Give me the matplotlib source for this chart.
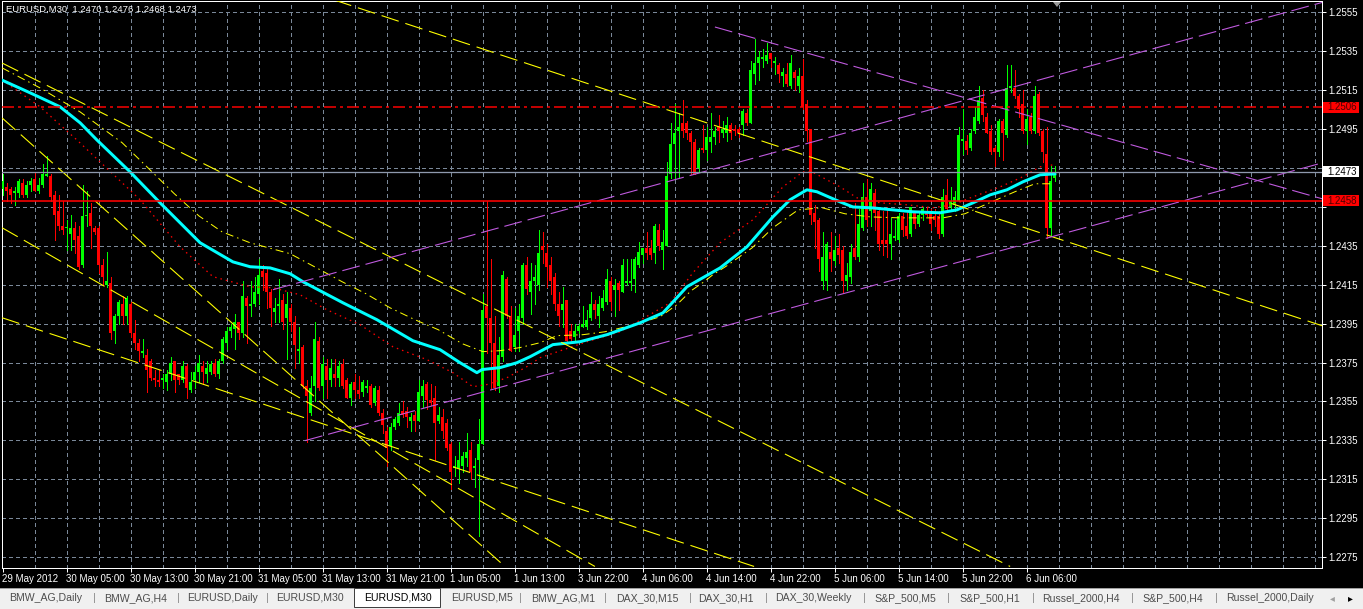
import matplotlib
matplotlib.use("Agg")
import matplotlib.pyplot as plt
from matplotlib.patches import Rectangle, Polygon

plt.rcParams['lines.scale_dashes'] = False
plt.rcParams['font.family'] = ['Liberation Sans', 'DejaVu Sans']

# ---------------- data (EURUSD M30 candles, bar index 0 = 29 May 21:00) ----------------
opens = [
1.2464,1.2465,1.2464,1.2462,1.2462,1.2467,1.2461,1.2466,1.2469,1.2463,
1.2466,1.2471,1.2471,1.2461,1.2453,1.2445,1.2444,1.2441,1.2444,1.2440,
1.2425,1.2450,1.2452,1.2444,1.2444,1.2425,1.2415,1.2416,1.2391,1.2399,
1.2405,1.2399,1.2405,1.2390,1.2385,1.2380,1.2379,1.2376,1.2367,1.2366,
1.2366,1.2365,1.2369,1.2376,1.2369,1.2366,1.2373,1.2361,1.2366,1.2370,
1.2373,1.2369,1.2370,1.2375,1.2369,1.2376,1.2385,1.2391,1.2392,1.2396,
1.2390,1.2408,1.2404,1.2405,1.2410,1.2422,1.2421,1.2411,1.2401,1.2404,
1.2407,1.2398,1.2403,1.2396,1.2381,1.2383,1.2363,1.2349,1.2363,1.2386,
1.2363,1.2373,1.2366,1.2369,1.2367,1.2374,1.2366,1.2357,1.2365,1.2361,
1.2360,1.2362,1.2363,1.2354,1.2361,1.2349,1.2340,1.2332,1.2342,1.2344,
1.2350,1.2350,1.2345,1.2348,1.2345,1.2358,1.2364,1.2356,1.2357,1.2345,
1.2347,1.2344,1.2333,1.2321,1.2321,1.2322,1.2326,1.2330,1.2321,1.2325,
1.2333,1.2404,1.2398,1.2385,1.2363,1.2378,1.2418,1.2399,1.2383,1.2391,
1.2398,1.2425,1.2411,1.2417,1.2415,1.2435,1.2431,1.2425,1.2419,1.2405,
1.2402,1.2407,1.2391,1.2388,1.2391,1.2393,1.2393,1.2398,1.2405,1.2399,
1.2403,1.2406,1.2417,1.2412,1.2416,1.2411,1.2416,1.2416,1.2418,1.2425,
1.2430,1.2434,1.2434,1.2431,1.2443,1.2433,1.2435,1.2472,1.2487,1.2494,
1.2498,1.2498,1.2493,1.2488,1.2475,1.2485,1.2484,1.2488,1.2491,1.2496,
1.2493,1.2493,1.2497,1.2495,1.2495,1.2497,1.2503,1.2498,1.2523,1.2529,
1.2531,1.2530,1.2534,1.2529,1.2528,1.2522,1.2523,1.2517,1.2524,1.2517,
1.2522,1.2508,1.2495,1.2452,1.2448,1.2417,1.2417,1.2432,1.2427,1.2434,
1.2433,1.2417,1.2419,1.2434,1.2429,1.2444,1.2460,1.2453,1.2462,1.2453,
1.2438,1.2438,1.2436,1.2439,1.2438,1.2450,1.2445,1.2441,1.2453,1.2446,
1.2451,1.2452,1.2452,1.2450,1.2450,1.2441,1.2461,1.2455,1.2456,1.2458,
1.2489,1.2489,1.2485,1.2494,1.2499,1.2511,1.2501,1.2494,1.2485,1.2483,
1.2499,1.2492,1.2516,1.2516,1.2512,1.2508,1.2494,1.2501,1.2494,1.2513,
1.2494,1.2482,1.2444,1.2470]
highs = [
1.2472,1.2467,1.2465,1.2465,1.2469,1.2469,1.2468,1.2470,1.2473,1.2470,
1.2477,1.2481,1.2472,1.2463,1.2461,1.2458,1.2448,1.2451,1.2447,1.2445,
1.2466,1.2463,1.2457,1.2445,1.2445,1.2428,1.2432,1.2419,1.2400,1.2407,
1.2409,1.2409,1.2406,1.2397,1.2387,1.2387,1.2382,1.2377,1.2371,1.2371,
1.2369,1.2371,1.2378,1.2376,1.2369,1.2376,1.2374,1.2370,1.2373,1.2379,
1.2376,1.2376,1.2376,1.2377,1.2377,1.2388,1.2393,1.2395,1.2400,1.2396,
1.2417,1.2409,1.2417,1.2419,1.2428,1.2425,1.2423,1.2413,1.2408,1.2418,
1.2410,1.2411,1.2405,1.2399,1.2393,1.2384,1.2366,1.2368,1.2396,1.2388,
1.2378,1.2377,1.2377,1.2377,1.2376,1.2377,1.2367,1.2365,1.2369,1.2368,
1.2366,1.2366,1.2364,1.2363,1.2363,1.2351,1.2342,1.2344,1.2347,1.2354,
1.2355,1.2352,1.2349,1.2350,1.2366,1.2366,1.2365,1.2364,1.2363,1.2352,
1.2351,1.2346,1.2334,1.2327,1.2334,1.2329,1.2339,1.2334,1.2326,1.2346,
1.2410,1.2458,1.2428,1.2399,1.2388,1.2422,1.2419,1.2404,1.2403,1.2405,
1.2426,1.2429,1.2426,1.2425,1.2443,1.2442,1.2436,1.2429,1.2421,1.2411,
1.2414,1.2407,1.2395,1.2395,1.2395,1.2404,1.2402,1.2411,1.2407,1.2409,
1.2412,1.2423,1.2419,1.2418,1.2417,1.2428,1.2428,1.2428,1.2429,1.2437,
1.2434,1.2442,1.2438,1.2446,1.2446,1.2443,1.2478,1.2498,1.2508,1.2503,
1.2510,1.2499,1.2494,1.2490,1.2485,1.2497,1.2496,1.2503,1.2496,1.2502,
1.2499,1.2501,1.2498,1.2497,1.2496,1.2505,1.2505,1.2530,1.2541,1.2535,
1.2536,1.2539,1.2534,1.2532,1.2529,1.2526,1.2529,1.2533,1.2525,1.2526,
1.2531,1.2510,1.2495,1.2456,1.2449,1.2442,1.2437,1.2442,1.2440,1.2441,
1.2435,1.2426,1.2436,1.2457,1.2454,1.2467,1.2469,1.2467,1.2464,1.2454,
1.2453,1.2455,1.2449,1.2448,1.2452,1.2452,1.2453,1.2455,1.2453,1.2453,
1.2455,1.2455,1.2454,1.2454,1.2453,1.2464,1.2469,1.2465,1.2463,1.2496,
1.2505,1.2492,1.2495,1.2506,1.2517,1.2515,1.2503,1.2497,1.2486,1.2500,
1.2500,1.2528,1.2528,1.2525,1.2513,1.2515,1.2505,1.2503,1.2517,1.2514,
1.2495,1.2496,1.2476,1.2476]
lows = [
1.2461,1.2458,1.2457,1.2456,1.2460,1.2460,1.2460,1.2463,1.2463,1.2462,
1.2465,1.2471,1.2458,1.2438,1.2443,1.2441,1.2433,1.2433,1.2431,1.2423,
1.2424,1.2445,1.2434,1.2441,1.2421,1.2415,1.2414,1.2387,1.2385,1.2395,
1.2395,1.2395,1.2388,1.2382,1.2376,1.2378,1.2360,1.2366,1.2363,1.2363,
1.2362,1.2361,1.2366,1.2360,1.2364,1.2365,1.2357,1.2360,1.2362,1.2365,
1.2364,1.2365,1.2369,1.2368,1.2367,1.2375,1.2382,1.2388,1.2382,1.2387,
1.2388,1.2385,1.2399,1.2404,1.2405,1.2412,1.2403,1.2394,1.2396,1.2396,
1.2392,1.2377,1.2391,1.2372,1.2375,1.2362,1.2334,1.2348,1.2355,1.2361,
1.2357,1.2357,1.2363,1.2363,1.2363,1.2362,1.2357,1.2353,1.2357,1.2357,
1.2358,1.2360,1.2352,1.2353,1.2348,1.2339,1.2322,1.2330,1.2341,1.2343,
1.2347,1.2342,1.2340,1.2340,1.2345,1.2352,1.2351,1.2353,1.2325,1.2344,
1.2336,1.2330,1.2310,1.2317,1.2313,1.2319,1.2322,1.2315,1.2311,1.2286,
1.2333,1.2380,1.2362,1.2361,1.2360,1.2376,1.2398,1.2381,1.2381,1.2381,
1.2395,1.2410,1.2400,1.2405,1.2412,1.2426,1.2414,1.2410,1.2402,1.2394,
1.2393,1.2385,1.2385,1.2386,1.2390,1.2393,1.2392,1.2397,1.2398,1.2393,
1.2402,1.2405,1.2402,1.2399,1.2402,1.2411,1.2415,1.2412,1.2411,1.2424,
1.2426,1.2428,1.2428,1.2426,1.2433,1.2423,1.2435,1.2470,1.2470,1.2470,
1.2491,1.2490,1.2472,1.2472,1.2473,1.2483,1.2479,1.2483,1.2487,1.2488,
1.2491,1.2489,1.2490,1.2492,1.2491,1.2492,1.2497,1.2498,1.2518,1.2520,
1.2527,1.2529,1.2527,1.2523,1.2519,1.2517,1.2517,1.2516,1.2515,1.2514,
1.2505,1.2489,1.2446,1.2434,1.2422,1.2413,1.2412,1.2422,1.2425,1.2426,
1.2411,1.2412,1.2416,1.2428,1.2427,1.2443,1.2445,1.2445,1.2443,1.2433,
1.2430,1.2429,1.2428,1.2438,1.2437,1.2440,1.2439,1.2440,1.2444,1.2445,
1.2448,1.2450,1.2443,1.2445,1.2439,1.2440,1.2453,1.2454,1.2453,1.2458,
1.2482,1.2482,1.2484,1.2493,1.2498,1.2499,1.2493,1.2482,1.2476,1.2481,
1.2479,1.2491,1.2514,1.2511,1.2501,1.2493,1.2487,1.2493,1.2493,1.2492,
1.2478,1.2439,1.2440,1.2468]
closes = [
1.2468,1.2463,1.2461,1.2463,1.2468,1.2461,1.2466,1.2468,1.2463,1.2466,
1.2472,1.2472,1.2460,1.2451,1.2445,1.2443,1.2444,1.2444,1.2438,1.2424,
1.2450,1.2451,1.2445,1.2442,1.2425,1.2419,1.2417,1.2390,1.2399,1.2406,
1.2399,1.2408,1.2390,1.2385,1.2381,1.2381,1.2371,1.2367,1.2366,1.2365,
1.2367,1.2369,1.2375,1.2366,1.2366,1.2373,1.2362,1.2365,1.2370,1.2375,
1.2370,1.2372,1.2374,1.2369,1.2376,1.2387,1.2391,1.2393,1.2396,1.2390,
1.2409,1.2404,1.2405,1.2411,1.2420,1.2419,1.2411,1.2403,1.2403,1.2405,
1.2396,1.2405,1.2396,1.2384,1.2382,1.2363,1.2358,1.2362,1.2387,1.2362,
1.2374,1.2366,1.2372,1.2367,1.2373,1.2363,1.2357,1.2364,1.2361,1.2359,
1.2365,1.2363,1.2353,1.2362,1.2349,1.2343,1.2331,1.2342,1.2346,1.2349,
1.2348,1.2347,1.2347,1.2345,1.2360,1.2363,1.2356,1.2354,1.2344,1.2348,
1.2340,1.2331,1.2319,1.2322,1.2325,1.2327,1.2329,1.2319,1.2322,1.2333,
1.2402,1.2398,1.2385,1.2362,1.2379,1.2420,1.2399,1.2381,1.2389,1.2399,
1.2425,1.2413,1.2417,1.2419,1.2431,1.2433,1.2424,1.2417,1.2405,1.2399,
1.2405,1.2386,1.2387,1.2391,1.2394,1.2395,1.2397,1.2405,1.2402,1.2405,
1.2408,1.2418,1.2406,1.2415,1.2412,1.2425,1.2417,1.2417,1.2428,1.2432,
1.2434,1.2431,1.2430,1.2445,1.2435,1.2437,1.2471,1.2487,1.2493,1.2496,
1.2494,1.2493,1.2488,1.2472,1.2484,1.2484,1.2491,1.2491,1.2494,1.2494,
1.2495,1.2497,1.2493,1.2494,1.2493,1.2504,1.2498,1.2525,1.2529,1.2532,
1.2532,1.2533,1.2531,1.2530,1.2523,1.2524,1.2518,1.2529,1.2521,1.2522,
1.2506,1.2494,1.2451,1.2447,1.2428,1.2429,1.2436,1.2428,1.2433,1.2430,
1.2417,1.2420,1.2432,1.2429,1.2446,1.2460,1.2448,1.2464,1.2452,1.2436,
1.2436,1.2436,1.2441,1.2440,1.2450,1.2443,1.2440,1.2455,1.2446,1.2451,
1.2454,1.2451,1.2446,1.2448,1.2441,1.2460,1.2454,1.2458,1.2460,1.2492,
1.2490,1.2484,1.2493,1.2501,1.2510,1.2502,1.2493,1.2483,1.2483,1.2499,
1.2493,1.2516,1.2517,1.2512,1.2505,1.2494,1.2500,1.2494,1.2512,1.2493,
1.2483,1.2444,1.2468,1.2473]

# moving averages (bar index, price)
ma_cyan_x = [-0.1, 6.9, 14.4, 19.4, 23.6, 31.9, 39.4, 49.4, 57.6, 61.9, 66.9, 71.9, 75.1, 85.1,
             93.6, 102.6, 109.4, 114.4, 118.6, 119.9, 124.4, 128.6, 131.9, 137.6, 144.4, 151.1,
             159.4, 165.1, 171.1, 179.4, 186.1, 192.6, 196.9, 201.1, 203.6, 209.4, 212.6, 217.6,
             227.6, 234.4, 238.6, 242.6, 246.9, 251.1, 255.1, 259.4, 263.1]
ma_cyan_p = [1.2520, 1.25135, 1.25063, 1.24981, 1.24893, 1.24729, 1.24570, 1.24365, 1.24267,
             1.24242, 1.24236, 1.24206, 1.24165, 1.24057, 1.23970, 1.23862, 1.23816, 1.23749,
             1.23698, 1.23714, 1.23724, 1.23749, 1.23780, 1.23842, 1.23857, 1.23893, 1.23954,
             1.24005, 1.24139, 1.24236, 1.24344, 1.24498, 1.24586, 1.24637, 1.24627, 1.24575,
             1.24549, 1.24544, 1.24524, 1.24519, 1.24534, 1.24570, 1.24611, 1.24637, 1.24678,
             1.24714, 1.24719]
ma_red_x = [-0.1, 9.4, 18.6, 34.4, 44.4, 52.6, 61.9, 67.6, 74.4, 81.1, 89.4, 97.6, 106.1, 112.6,
            117.6, 121.1, 126.1, 131.1, 134.4, 146.1, 154.4, 162.6, 166.9, 172.6, 179.4, 187.6,
            195.1, 200.1, 202.4, 209.4, 213.6, 219.4, 226.1, 232.6, 237.6, 242.6, 249.4, 255.1,
            259.4, 262.6]
ma_red_p = [1.25201, 1.25063, 1.24893, 1.24586, 1.24344, 1.24191, 1.24139, 1.24134, 1.24098,
            1.24021, 1.23944, 1.23831, 1.23765, 1.23698, 1.23626, 1.23637, 1.23672, 1.23729,
            1.23775, 1.23857, 1.23908, 1.24005, 1.24057, 1.24211, 1.24365, 1.24483, 1.24652,
            1.24729, 1.24729, 1.24652, 1.24596, 1.24570, 1.24560, 1.24545, 1.24560, 1.24601,
            1.24652, 1.24704, 1.24755, 1.24765]
ma_yel_x = [-0.1, 9.4, 19.4, 29.9, 37.1, 42.9, 49.1, 54.9, 61.9, 71.9, 78.9, 84.9, 90.9, 96.9,
            103.1, 108.9, 114.9, 120.1, 124.4, 129.4, 134.4, 138.6, 145.1, 150.6, 156.9, 164.4,
            168.6, 172.1, 175.4, 177.6, 181.1, 183.9, 187.4, 192.6, 198.9, 204.9, 210.6, 216.9,
            224.4, 235.1, 240.6, 245.6, 253.1, 258.1, 261.9]
ma_yel_p = [1.25263, 1.25160, 1.25037, 1.24879, 1.24735, 1.24618, 1.24503, 1.24421, 1.24365,
            1.24309, 1.24232, 1.24165, 1.24103, 1.24031, 1.23970, 1.23919, 1.23847, 1.23806,
            1.23811, 1.23827, 1.23852, 1.23888, 1.23893, 1.23908, 1.23939, 1.23985, 1.24047,
            1.24118, 1.24165, 1.24201, 1.24247, 1.24288, 1.24339, 1.24442, 1.24534, 1.24545,
            1.24514, 1.24498, 1.24493, 1.24493, 1.24514, 1.24560, 1.24627, 1.24668, 1.24668]

# trend lines: (bar0, price0, bar1, price1)
purple_x0 = [67.6, 75.6, 178.1]
purple_p0 = [1.24124, 1.23349, 1.25473]
purple_x1 = [329.9, 329.9, 329.9]
purple_p1 = [1.25599, 1.24775, 1.24591]
yellow_x0 = [82.9, -0.1, -0.1, -0.1, -0.1]
yellow_p0 = [1.25612, 1.25288, 1.24442, 1.23980, 1.25006]
yellow_x1 = [329.9, 251.9, 148.1, 187.9, 125.6]
yellow_p1 = [1.23939, 1.22703, 1.22703, 1.22703, 1.22703]

hline_dashdot = 1.2506
hline_solid = 1.2458
bid_price = 1.2473
header = "EURUSD,M30  1.2470 1.2476 1.2468 1.2473"

price_ticks = [1.2275, 1.2295, 1.2315, 1.2335, 1.2355, 1.2375, 1.2395, 1.2415,
               1.2435, 1.2455, 1.2475, 1.2495, 1.2515, 1.2535, 1.2555]
hidden_ticks = [1.2455, 1.2475]  # covered by the price boxes
time_labels = ["29 May 2012", "30 May 05:00", "30 May 13:00", "30 May 21:00", "31 May 05:00",
               "31 May 13:00", "31 May 21:00", "1 Jun 05:00", "1 Jun 13:00", "3 Jun 22:00",
               "4 Jun 06:00", "4 Jun 14:00", "4 Jun 22:00", "5 Jun 06:00", "5 Jun 14:00",
               "5 Jun 22:00", "6 Jun 06:00"]
time_label_bars = [16 * k for k in range(len(time_labels))]
tabs = ["BMW_AG,Daily", "BMW_AG,H4", "EURUSD,Daily", "EURUSD,M30", "EURUSD,M30", "EURUSD,M5",
        "BMW_AG,M1", "DAX_30,M15", "DAX_30,H1", "DAX_30,Weekly", "S&P_500,M5", "S&P_500,H1",
        "Russel_2000,H4", "S&P_500,H4", "Russel_2000,Daily"]
active_tab = 4

# ---------------- layout ----------------
W, H = 1363, 609
PX = 0.72  # points per pixel
def fx(x):
    return x / W
def fy(y):
    return 1 - y / H

YLO, YHI = 1.226976, 1.256065
fig = plt.figure(figsize=(W / 100, H / 100), dpi=100)
fig.patch.set_facecolor('black')
AL, AR, AT, AB = 2, 1322, 1, 567.5
ax = fig.add_axes([fx(AL), fy(AB), (AR - AL) / W, (AB - AT) / H])
ax.set_facecolor('black')
ax.set_xlim(-0.125, 329.875)
ax.set_ylim(YLO, YHI)
for s in ax.spines.values():
    s.set_color('white')
    s.set_linewidth(PX)

# grid
grid_col = '#7A8899'
for p in price_ticks:
    ax.axhline(p, color=grid_col, lw=PX, dashes=(3 * PX, 3 * PX), zorder=1, antialiased=False)
for b in range(8, 330, 8):
    ax.axvline(b, color=grid_col, lw=PX, dashes=(3 * PX, 3 * PX), zorder=1, antialiased=False)

# candles
idx = list(range(len(closes)))
cols = ['#00FF00' if c >= o else '#FF0000' for o, c in zip(opens, closes)]
ax.vlines(idx, lows, highs, colors=cols, linewidth=PX, zorder=3, antialiased=False)
bots = [min(o, c) for o, c in zip(opens, closes)]
hts = [max(abs(c - o), 0.00006) for o, c in zip(opens, closes)]
ax.bar(idx, hts, bottom=bots, width=0.75, color=cols, linewidth=0, zorder=4, antialiased=False)

# indicators
ax.plot(ma_yel_x, ma_yel_p, color='#FFFF00', lw=PX,
        dashes=(8 * PX, 4 * PX, 1.5 * PX, 4 * PX), zorder=5)
ax.plot(ma_red_x, ma_red_p, color='#FF0000', lw=PX * 1.3, dashes=(1.5 * PX, 4 * PX), zorder=5)
ax.plot(ma_cyan_x, ma_cyan_p, color='#00FFFF', lw=3 * PX, zorder=6, solid_joinstyle='round')

# trend lines
for x0, p0, x1, p1 in zip(yellow_x0, yellow_p0, yellow_x1, yellow_p1):
    ax.plot([x0, x1], [p0, p1], color='#FFFF00', lw=PX * 1.1, dashes=(18 * PX, 7 * PX), zorder=7)
for x0, p0, x1, p1 in zip(purple_x0, purple_p0, purple_x1, purple_p1):
    ax.plot([x0, x1], [p0, p1], color='#C05ADF', lw=PX * 1.1, dashes=(18 * PX, 6 * PX), zorder=7)

# horizontal lines
ax.axhline(hline_dashdot, color='#FF0000', lw=PX * 1.5,
           dashes=(12 * PX, 4 * PX, 3 * PX, 4 * PX), zorder=8)
ax.axhline(hline_solid, color='#FF0000', lw=PX * 1.6, zorder=8)
ax.axhline(bid_price, color='#8E99AD', lw=PX * 1.3, zorder=8)

# axes ticks
ax.yaxis.tick_right()
ax.set_yticks(price_ticks)
ax.set_yticklabels(["" if p in hidden_ticks else f"{p:.4f}" for p in price_ticks])
ax.tick_params(axis='y', colors='white', length=3, width=PX, pad=1.5, labelsize=7)
ax.set_xticks(time_label_bars)
ax.set_xticklabels(time_labels, ha='left')
ax.tick_params(axis='x', colors='white', length=3, width=PX, pad=1.5, labelsize=7)

# header
fig.text(fx(6), fy(9), header, color='white', fontsize=6.8, va='center', ha='left')

# chart-shift marker
fig.add_artist(Polygon([(fx(1053), fy(2)), (fx(1061), fy(2)), (fx(1057), fy(7))],
                       closed=True, transform=fig.transFigure, facecolor='#9A9A9A',
                       edgecolor='none'))

# price label boxes on the right axis
def price_box(p, face, txtcol):
    yc = AT + (YHI - p) / (YHI - YLO) * (AB - AT)
    fig.add_artist(Rectangle((fx(1323), fy(yc + 5.5)), 36 / W, 11 / H, transform=fig.transFigure,
                             facecolor=face, edgecolor='none', zorder=5))
    fig.text(fx(1327.5), fy(yc), f"{p:.4f}", color=txtcol, fontsize=7, va='center',
             ha='left', zorder=6)

price_box(hline_dashdot, '#FF0000', '#4A0000')
price_box(bid_price, '#FFFFFF', '#000000')
price_box(hline_solid, '#FF0000', '#4A0000')

# tab bar
fig.add_artist(Rectangle((0, 0), 1, fy(589), transform=fig.transFigure,
                         facecolor='#F0F0F0', edgecolor='none', zorder=1))
fig.add_artist(Rectangle((0, fy(589)), 1, 1.2 / H, transform=fig.transFigure,
                         facecolor='#A0A0A0', edgecolor='none', zorder=1))
tab_x = [9, 104, 187, 276, 364, 451, 531, 616, 698, 775, 874, 959, 1042, 1142, 1226]
sep_x = [94, 178, 267, 520, 605, 690, 766, 864, 948, 1033, 1132, 1216]
fig.add_artist(Rectangle((fx(354), fy(607)), 86 / W, 19 / H, transform=fig.transFigure,
                         facecolor='white', edgecolor='#404040', lw=PX, zorder=2))
for i, (t, x) in enumerate(zip(tabs, tab_x)):
    fig.text(fx(x), fy(598), t, color='#000000' if i == active_tab else '#4D4D4D',
             fontsize=7.6, va='center', ha='left', zorder=3)
for x in sep_x:
    fig.text(fx(x), fy(598), "|", color='#8C8C8C', fontsize=8, va='center', ha='center',
             zorder=3)
fig.text(fx(1332), fy(598), "\u25C2", color='#A0A0A0', fontsize=7, va='center', ha='center',
         family='DejaVu Sans', zorder=3)
fig.text(fx(1350), fy(598), "\u25B8", color='#000000', fontsize=7, va='center', ha='center',
         family='DejaVu Sans', zorder=3)

fig.savefig("out.png", dpi=100, facecolor='black')
